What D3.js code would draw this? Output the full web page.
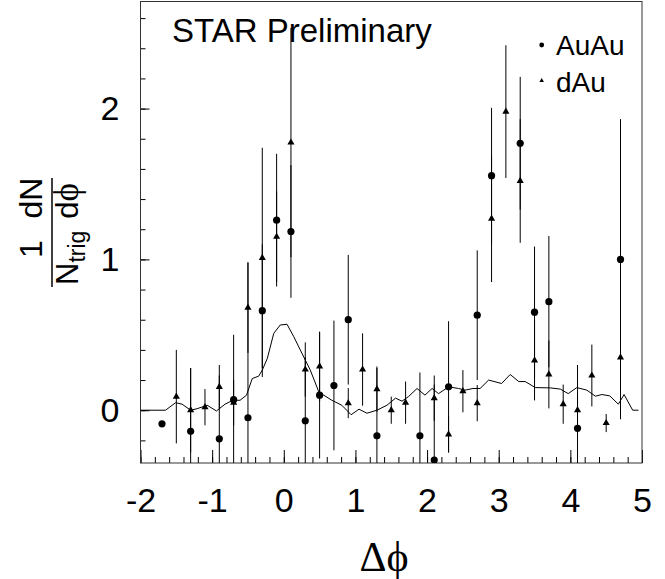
<!DOCTYPE html>
<html>
<head>
<meta charset="utf-8">
<script src="https://cdn.jsdelivr.net/npm/d3@7"></script>
<style>
  body { margin: 0; background: #fff; }
  text { font-family: "Liberation Sans", Arial, sans-serif; }
  .greek { font-family: "Liberation Serif", "DejaVu Serif", serif; }
</style>
</head>
<body>
<div id="chart"></div>
<script>
// bin centres in delta phi
const bins = [-1.7, -1.5, -1.3, -1.1, -0.9, -0.7, -0.5, -0.3, -0.1, 0.1, 0.3, 0.5, 0.7, 0.9, 1.1,
    1.3, 1.5, 1.7, 1.9, 2.1, 2.3, 2.5, 2.7, 2.9, 3.1, 3.3, 3.5, 3.7, 3.9, 4.1, 4.3, 4.5, 4.7];

// AuAu (circles)
const auauY = [-0.09, null, -0.14, null, -0.19, 0.07, -0.05, 0.66, 1.26, 1.185, -0.07, 0.10, 0.164, 0.60, null,
    -0.17, null, null, -0.17, -0.33, 0.155, null, 0.63, 1.555, null, 1.77, 0.65, 0.72, null, -0.12, null, null, 1.0];
const auauErr = [0, null, 0.42, null, 0.42, 0.43, 1.03, 0.44, 0.44, 0.44, 0.42, 0.42, 0.43, 0.43, null,
    0.45, null, null, 0.42, 0.5, 0.435, null, 0.43, 0.45, null, 0.44, 0.435, 0.435, null, 0.42, null, null, 0.93];

// dAu (triangles)
const dauY = [null, 0.09, 0.0, 0.02, 0.155, 0.05, 0.68, 1.01, 1.15, 1.775, 0.27, 0.29, null, 0.047, 0.27,
    0.14, 0.0, 0.05, null, 0.08, -0.16, 0.126, 0.047, 1.27, 1.98, 1.52, 0.33, 0.237, 0.04, 0.0, 0.23, -0.085, 0.35];
const dauErr = [null, 0.31, 0.28, 0.12, 0.145, 0.15, 0.30, 0.73, 0.30, 0.76, 0.18, 0.23, null, 0.10, 0.24,
    0.15, 0.09, 0.14, null, 0.15, 0.12, 0.14, 0.12, 0.42, 0.44, 0.41, 0.265, 0.225, 0.13, 0.10, 0.205, 0.06, 0.41];

// reference curve
const curveX = [-2.0, -1.65, -1.51, -1.42, -1.30, -1.21, -1.07, -0.94, -0.82, -0.71, -0.61, -0.52, -0.44, -0.35,
    -0.30, -0.23, -0.14, -0.05, 0.045, 0.14, 0.23, 0.37, 0.49, 0.67, 0.81, 0.94, 1.05, 1.16, 1.30, 1.44, 1.56,
    1.65, 1.74, 1.86, 1.97, 2.07, 2.16, 2.30, 2.44, 2.53, 2.64, 2.74, 2.86, 3.04, 3.16, 3.28, 3.37, 3.51, 3.72,
    3.86, 3.97, 4.09, 4.23, 4.35, 4.44, 4.55, 4.67, 4.75, 4.87, 4.95];
const curveY = [0, 0, 0.05, 0.04, 0.0, 0.01, 0.033, -0.005, 0.04, 0.066, 0.066, 0.10, 0.21, 0.226,
    0.266, 0.343, 0.51, 0.565, 0.57, 0.487, 0.40, 0.266, 0.12, 0.066, 0.033, -0.03, 0.007, -0.02, 0.0, 0.033, 0.08,
    0.06, 0.09, 0.144, 0.10, 0.144, 0.11, 0.155, 0.144, 0.133, 0.144, 0.144, 0.20, 0.177, 0.237, 0.19, 0.19, 0.15, 0.148,
    0.14, 0.11, 0.15, 0.133, 0.093, 0.104, 0.095, 0.04, 0.104, 0.0, 0.0];

const xMajor = [-2, -1, 0, 1, 2, 3, 4, 5];
const yMajor = [0, 1, 2];
const legendNames = ["AuAu", "dAu"];

let fullWidth = 665, fullHeight = 579;

let svg = d3.select("#chart")
    .append("svg")
    .attr("width", fullWidth)
    .attr("height", fullHeight);

let x = d3.scaleLinear().domain([-2, 5]).range([140.5, 642]);
let y = d3.scaleLinear().domain([-0.35, 2.71]).range([463, 1.5]);

let xMinor = d3.range(-20, 51, 2).map(d => d / 10);
let yMinor = d3.range(-2, 28, 2).map(d => d / 10);

svg.append("defs").append("clipPath")
    .attr("id", "frame")
    .append("rect")
    .attr("x", x(-2)).attr("y", y(2.71))
    .attr("width", x(5) - x(-2)).attr("height", y(-0.35) - y(2.71));

// axes: ticks point inwards, plain hyphen for negatives
let axisX = svg.append("g").attr("transform", `translate(0,${y(-0.35)})`);
axisX.append("g")
    .call(d3.axisBottom(x).tickValues(xMinor).tickSize(-6).tickFormat(""));
axisX.append("g")
    .call(d3.axisBottom(x).tickValues(xMajor).tickSize(-13).tickPadding(25).tickFormat(d => String(d)))
    .selectAll("text")
    .style("font-size", "34px")
    .style("fill", "#000");

let axisY = svg.append("g").attr("transform", `translate(${x(-2)},0)`);
axisY.append("g")
    .call(d3.axisLeft(y).tickValues(yMinor).tickSize(-5).tickFormat(""));
axisY.append("g")
    .call(d3.axisLeft(y).tickValues(yMajor).tickSize(-9).tickPadding(21).tickFormat(d => String(d)))
    .selectAll("text")
    .style("font-size", "34px")
    .style("fill", "#000");

svg.selectAll(".domain").remove();
svg.selectAll(".tick line").style("stroke", "#000");

// frame
svg.append("rect")
    .attr("x", x(-2)).attr("y", y(2.71))
    .attr("width", x(5) - x(-2)).attr("height", y(-0.35) - y(2.71))
    .attr("fill", "none")
    .attr("stroke", "#333")
    .attr("stroke-width", 1);

let plot = svg.append("g").attr("clip-path", "url(#frame)");

// curve
let line = d3.line().x(d => x(d[0])).y(d => y(d[1]));
plot.append("path")
    .datum(curveX.map((v, i) => [v, curveY[i]]))
    .attr("d", line)
    .attr("fill", "none")
    .attr("stroke", "#000")
    .attr("stroke-width", 1);

function points(vals, errs) {
    return bins.map((b, i) => ({ x: b, y: vals[i], e: errs[i] })).filter(d => d.y !== null);
}
let auau = points(auauY, auauErr);
let dau = points(dauY, dauErr);

// error bars
plot.selectAll(".err")
    .data(auau.concat(dau))
    .enter()
    .append("line")
    .attr("class", "err")
    .attr("x1", d => x(d.x)).attr("x2", d => x(d.x))
    .attr("y1", d => y(d.y - d.e)).attr("y2", d => y(d.y + d.e))
    .attr("stroke", "#000")
    .attr("stroke-width", 1);

let tri = d3.symbol().type(d3.symbolTriangle).size(22);

plot.selectAll(".auau")
    .data(auau)
    .enter()
    .append("circle")
    .attr("class", "auau")
    .attr("cx", d => x(d.x))
    .attr("cy", d => y(d.y))
    .attr("r", 3.6)
    .attr("fill", "#000");

plot.selectAll(".dau")
    .data(dau)
    .enter()
    .append("path")
    .attr("class", "dau")
    .attr("d", tri)
    .attr("transform", d => `translate(${x(d.x)},${y(d.y)})`)
    .attr("fill", "#000");

// title text
svg.append("text")
    .attr("x", 172)
    .attr("y", 42)
    .style("font-size", "33px")
    .style("fill", "#000")
    .text("STAR Preliminary");

// legend
let legend = svg.append("g");
legendNames.forEach((name, i) => {
    let ly = 55 + i * 36.7;
    if (i === 0) {
        legend.append("circle").attr("cx", 541.7).attr("cy", ly - 10).attr("r", 2.4).attr("fill", "#000");
    } else {
        legend.append("path")
            .attr("d", d3.symbol().type(d3.symbolTriangle).size(9))
            .attr("transform", `translate(541.7,${ly - 11})`)
            .attr("fill", "#000");
    }
    legend.append("text")
        .attr("x", 556)
        .attr("y", ly)
        .style("font-size", "28px")
        .style("fill", "#000")
        .text(name);
});

// x title
svg.append("text")
    .attr("x", 384)
    .attr("y", 571)
    .attr("text-anchor", "middle")
    .attr("class", "greek")
    .style("font-size", "42px")
    .style("fill", "#000")
    .text("\u0394\u03D5");

// y title: 1/N_trig dN/dphi, rotated
let yt = svg.append("g").attr("transform", "rotate(-90)");
yt.append("text")
    .attr("x", -249).attr("y", 42)
    .attr("text-anchor", "middle")
    .style("font-size", "32px")
    .text("1");
yt.append("text")
    .attr("x", -198).attr("y", 42)
    .attr("text-anchor", "middle")
    .style("font-size", "32px")
    .text("dN");
let den = yt.append("text")
    .attr("x", -285).attr("y", 78)
    .style("font-size", "31px");
den.append("tspan").text("N");
den.append("tspan").attr("dy", 7).style("font-size", "23px").text("trig");
let den2 = yt.append("text")
    .attr("x", -201).attr("y", 78)
    .attr("text-anchor", "middle")
    .style("font-size", "31px");
den2.append("tspan").text("d");
den2.append("tspan").attr("class", "greek").style("font-size", "35px").text("\u03D5");
yt.append("line")
    .attr("x1", -287).attr("x2", -178)
    .attr("y1", 52).attr("y2", 52)
    .attr("stroke", "#000")
    .attr("stroke-width", 1.5);
</script>
</body>
</html>
